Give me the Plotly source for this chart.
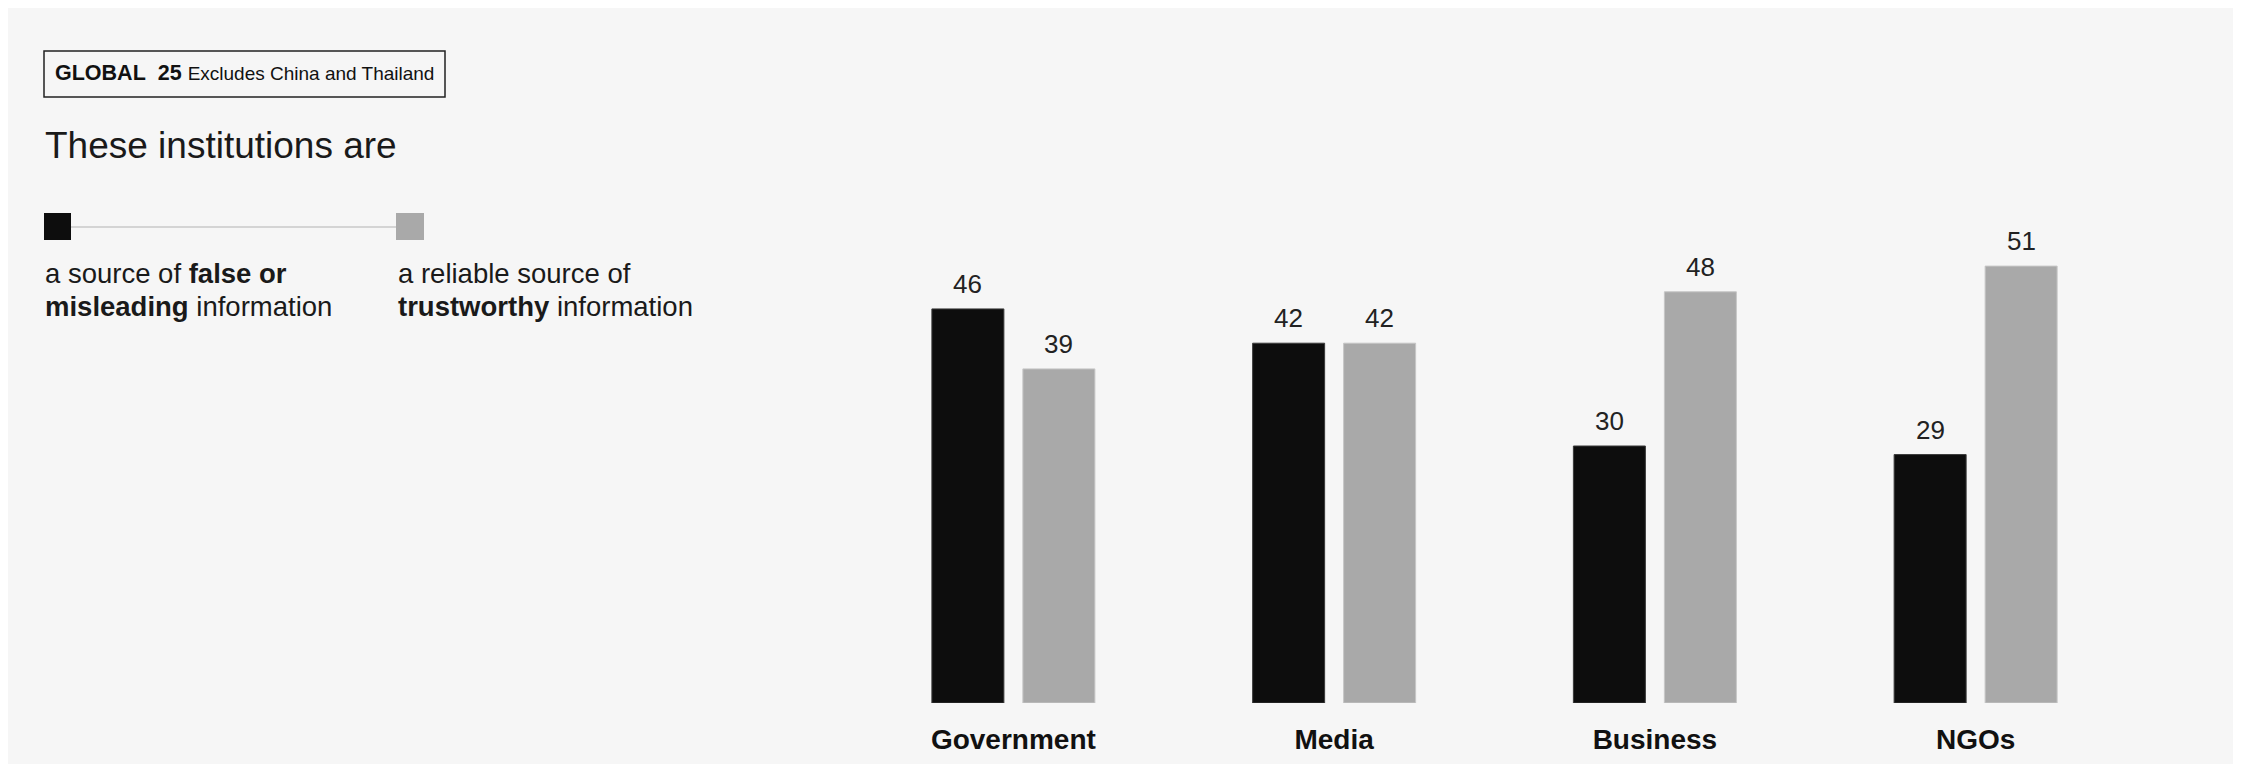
import plotly.graph_objects as go

# ---- data ----
categories = ["Government", "Media", "Business", "NGOs"]
false_misleading = [46, 42, 30, 29]
reliable_trustworthy = [39, 42, 48, 51]
series_names = ["a source of false or misleading information",
                "a reliable source of trustworthy information"]

# ---- layout constants (pixels) ----
FIG_W, FIG_H = 2244, 764
OFF = 8  # page body margin offset
L, R, T, B = 845, 116, 181, 69
W = FIG_W - L - R
H = FIG_H - T - B
FONT = "Liberation Sans, Arial, sans-serif"
BLACK = "#0d0d0d"
GRAY = "#a9a9a9"

cat_px = W / len(categories)
bar_px = 72
gap_px = 19
bw = bar_px / cat_px
off_black = -(gap_px / 2 + bar_px) / cat_px
off_gray = (gap_px / 2) / cat_px
shift = (gap_px + bar_px) / 2


def px2x(px):
    return (px - OFF - L) / W


def py2y(py):
    return 1 - (py - OFF - T) / H


fig = go.Figure()
fig.add_trace(go.Bar(
    x=categories, y=false_misleading, name=series_names[0],
    width=bw, offset=off_black,
    marker=dict(color=BLACK, line=dict(color="#3a3a3a", width=1)),
    hoverinfo="x+y",
))
fig.add_trace(go.Bar(
    x=categories, y=reliable_trustworthy, name=series_names[1],
    width=bw, offset=off_gray,
    marker=dict(color=GRAY, line=dict(color="#c6c6c6", width=1)),
    hoverinfo="x+y",
))

annotations = []
for c, v in zip(categories, false_misleading):
    annotations.append(dict(x=c, y=v, xref="x", yref="y", text=str(v), showarrow=False,
                            xshift=-shift, yshift=8, yanchor="bottom", xanchor="center",
                            font=dict(family=FONT, size=26, color="#222222")))
for c, v in zip(categories, reliable_trustworthy):
    annotations.append(dict(x=c, y=v, xref="x", yref="y", text=str(v), showarrow=False,
                            xshift=shift, yshift=8, yanchor="bottom", xanchor="center",
                            font=dict(family=FONT, size=26, color="#222222")))

# header box text
annotations.append(dict(
    xref="paper", yref="paper", x=px2x(53), y=py2y(73), xanchor="left", yanchor="middle",
    showarrow=False,
    text="<b>GLOBAL\u00a0\u00a025</b> <span style='font-size:19px'>Excludes China and Thailand</span>",
    font=dict(family=FONT, size=21.5, color="#111111")))
# title
annotations.append(dict(
    xref="paper", yref="paper", x=px2x(43), y=py2y(145), xanchor="left", yanchor="middle",
    showarrow=False, text="These institutions are",
    font=dict(family=FONT, size=37, color="#1a1a1a")))
# legend texts (one annotation per line for exact line spacing)
legend_lines = [
    (43, 273, "a source of <b>false or</b>"),
    (43, 306, "<b>misleading</b> information"),
    (396, 273, "a reliable source of"),
    (396, 306, "<b>trustworthy</b> information"),
]
for lx, ly, txt in legend_lines:
    annotations.append(dict(
        xref="paper", yref="paper", x=px2x(lx), y=py2y(ly), xanchor="left", yanchor="middle",
        showarrow=False, align="left", text=txt,
        font=dict(family=FONT, size=27.5, color="#1a1a1a")))

shapes = [
    # page background panel
    dict(type="rect", xref="paper", yref="paper", x0=px2x(8), x1=px2x(2233),
         y0=py2y(770), y1=py2y(5), fillcolor="#f6f6f6", line=dict(width=0), layer="below"),
    # header box
    dict(type="rect", xref="paper", yref="paper", x0=px2x(44), x1=px2x(445),
         y0=py2y(97), y1=py2y(51), line=dict(color="#222222", width=1.5),
         fillcolor="rgba(0,0,0,0)"),
    # legend connector line
    dict(type="line", xref="paper", yref="paper", x0=px2x(71), x1=px2x(396),
         y0=py2y(227), y1=py2y(227), line=dict(color="#c8c8c8", width=1.5)),
    # legend squares
    dict(type="rect", xref="paper", yref="paper", x0=px2x(44), x1=px2x(71),
         y0=py2y(240), y1=py2y(213), fillcolor=BLACK, line=dict(width=0)),
    dict(type="rect", xref="paper", yref="paper", x0=px2x(396), x1=px2x(424),
         y0=py2y(240), y1=py2y(213), fillcolor=GRAY, line=dict(width=0)),
]

fig.update_layout(
    width=FIG_W, height=FIG_H,
    margin=dict(l=L, r=R, t=T, b=B, pad=0, autoexpand=False),
    paper_bgcolor="white", plot_bgcolor="rgba(0,0,0,0)",
    barmode="group", showlegend=False,
    annotations=annotations, shapes=shapes,
    font=dict(family=FONT),
    xaxis=dict(range=[-0.5, 3.5], showgrid=False, zeroline=False, showline=False,
               ticks="", automargin=False, ticklabelstandoff=17,
               tickfont=dict(family=FONT, size=28, color="#111111", weight="bold")),
    yaxis=dict(range=[0, 60], visible=False, automargin=False),
)

fig.write_html("out.html")
